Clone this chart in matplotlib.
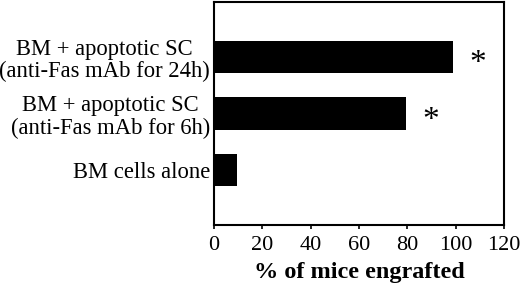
import matplotlib
matplotlib.use("Agg")
import matplotlib.pyplot as plt
import numpy as np

# data
groups = [
    "BM + apoptotic SC\n(anti-Fas mAb for 24h)",
    "BM + apoptotic SC\n(anti-Fas mAb for 6h)",
    "BM cells alone",
]
engrafted = [99, 79.5, 9.5]
significant = [True, True, False]
x_ticks = [0, 20, 40, 60, 80, 100, 120]

plt.rcParams["font.family"] = ["Liberation Serif", "DejaVu Serif"]

fig = plt.figure(figsize=(5.2, 2.92), dpi=100)
ax = fig.add_axes([214 / 520, 1 - 225 / 292, 290 / 520, 223 / 292])

ypos = np.arange(len(groups))
ax.barh(ypos, engrafted, height=0.57, color="black")

# asterisks for significance
for y, v, s in zip(ypos, engrafted, significant):
    if s:
        ax.text(v + 10, y + 0.12, "*", fontsize=24, ha="center", va="center")

ax.set_xlim(0, 120)
ax.set_ylim(2.98, -0.98)
ax.set_xticks(x_ticks)
ax.set_yticks(ypos)
ax.set_yticklabels(groups, fontsize=16.3, multialignment="center",
                   linespacing=1.1)
ax.tick_params(axis="x", labelsize=16, length=3, width=1.2, pad=5)
ax.tick_params(axis="y", length=0, pad=3)
ax.tick_params(axis="y", which="both", right=True, direction="in")
for sp in ax.spines.values():
    sp.set_linewidth(1.5)

ax.set_xlabel("% of mice engrafted", fontsize=17.5, fontweight="bold",
              labelpad=5)

fig.savefig("out.png", dpi=100)
